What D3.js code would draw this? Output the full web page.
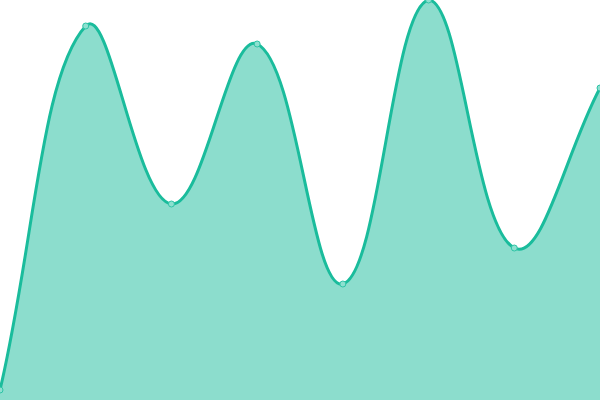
<!DOCTYPE html>
<html>
<head>
<meta charset="utf-8">
<script src="https://cdn.jsdelivr.net/npm/d3@7"></script>
<style>
  html, body { margin: 0; padding: 0; background: #fff; }
  svg { display: block; }
</style>
</head>
<body>
<svg id="chart" width="600" height="400"></svg>
<script>
const labels = ["A", "B", "C", "D", "E", "F", "G", "H"];
const values = [10, 374, 196, 356, 116, 400, 152, 312];

const width = 600, height = 400;
const tension = 0.4;
const svg = d3.select("#chart");

const x = d3.scalePoint()
    .domain(labels)
    .range([0, width]);
const y = d3.scaleLinear()
    .domain([0, 400])
    .range([height, 0]);

const pts = labels.map((l, i) => ({ x: x(l), y: y(values[i]) }));

// spline control points, each point pulls its handles along (next - prev)
const clampX = v => Math.max(0, Math.min(width, v));
const clampY = v => Math.max(0, Math.min(height, v));
pts.forEach((p, i) => {
    const prev = pts[i - 1] || p;
    const next = pts[i + 1] || p;
    const d01 = Math.hypot(p.x - prev.x, p.y - prev.y);
    const d12 = Math.hypot(next.x - p.x, next.y - p.y);
    const s01 = d01 / (d01 + d12) || 0;
    const s12 = d12 / (d01 + d12) || 0;
    const fa = tension * s01, fb = tension * s12;
    p.cpIn = [clampX(p.x - fa * (next.x - prev.x)), clampY(p.y - fa * (next.y - prev.y))];
    p.cpOut = [clampX(p.x + fb * (next.x - prev.x)), clampY(p.y + fb * (next.y - prev.y))];
});

const splinePath = (closeToBottom) => {
    const path = d3.path();
    path.moveTo(pts[0].x, pts[0].y);
    for (let i = 1; i < pts.length; i++) {
        const a = pts[i - 1], b = pts[i];
        path.bezierCurveTo(a.cpOut[0], a.cpOut[1], b.cpIn[0], b.cpIn[1], b.x, b.y);
    }
    if (closeToBottom) {
        path.lineTo(pts[pts.length - 1].x, y(0));
        path.lineTo(pts[0].x, y(0));
        path.closePath();
    }
    return path.toString();
};

svg.append("path")
    .attr("d", splinePath(true))
    .attr("fill", "#1abc9c")
    .attr("fill-opacity", 0.5);

svg.append("path")
    .attr("d", splinePath(false))
    .attr("fill", "none")
    .attr("stroke", "#1abc9c")
    .attr("stroke-width", 3);

svg.selectAll("circle")
    .data(pts)
    .enter()
    .append("circle")
    .attr("cx", d => d.x)
    .attr("cy", d => d.y)
    .attr("r", 3)
    .attr("fill", "#8de0d0")
    .attr("stroke", "#2ec4a6")
    .attr("stroke-width", 1);
</script>
</body>
</html>
